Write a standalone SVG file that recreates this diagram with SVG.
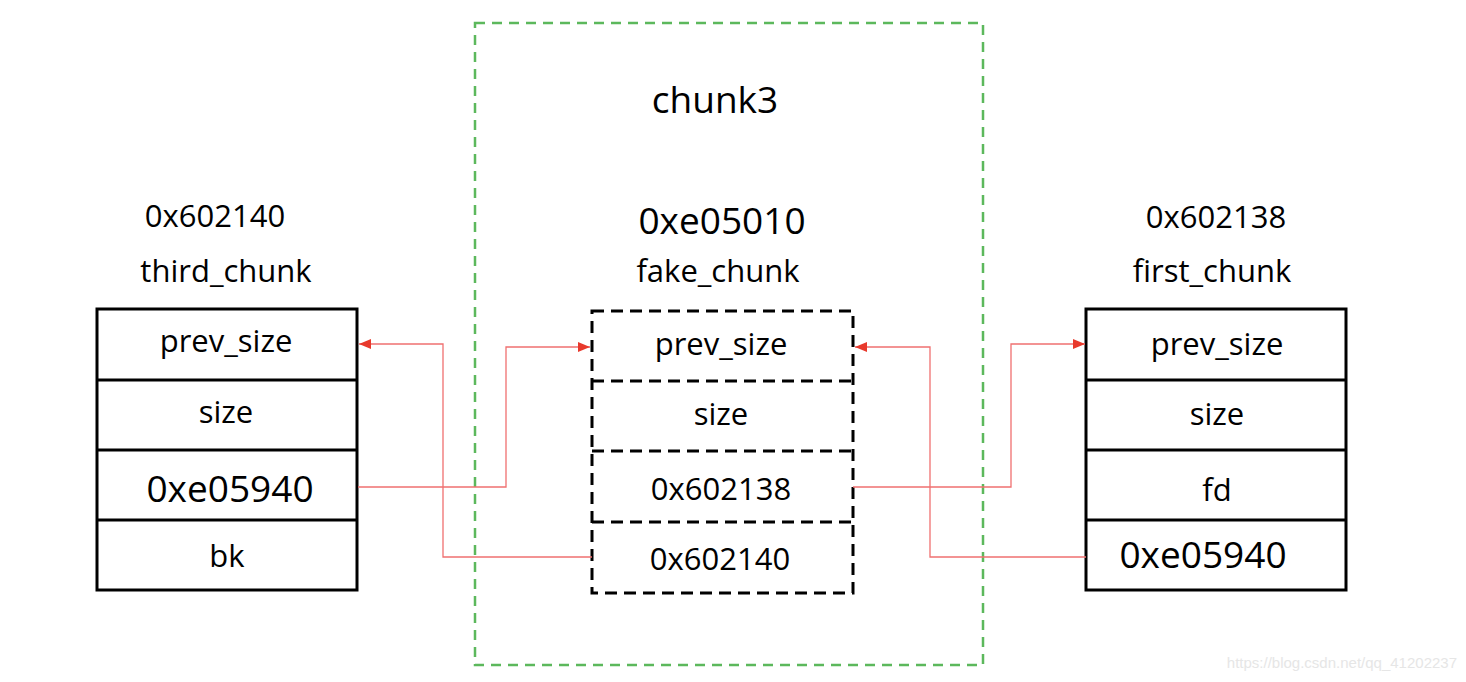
<svg xmlns="http://www.w3.org/2000/svg" width="1466" height="682" viewBox="0 0 1466 682">
<defs>
<style>
.t{font-family:"Open Sans","Noto Sans","Liberation Sans",sans-serif;fill:#000;text-anchor:middle}
.m{font-size:31px}
.l{font-size:37px}
.box{fill:none;stroke:#000;stroke-width:3}
.dbox{fill:none;stroke:#000;stroke-width:3;stroke-dasharray:12 7}
.c{fill:none;stroke:#f07070;stroke-width:1.3}
</style>
<marker id="ah" markerWidth="12" markerHeight="10" refX="12" refY="5" orient="auto" markerUnits="userSpaceOnUse">
<path d="M0,0 L12,5 L0,10 Z" fill="#e8392c"/>
</marker>
</defs>
<rect width="1466" height="682" fill="#fff"/>
<g id="chunk3">
<rect x="475" y="23" width="508" height="642" fill="none" stroke="#5cb85c" stroke-width="2.5" stroke-dasharray="10 7"/>
<text class="t l" x="715" y="113">chunk3</text>
</g>
<g id="third_chunk">
<text class="t m" x="215" y="227">0x602140</text>
<text class="t m" x="226" y="282">third_chunk</text>
<rect class="box" x="97" y="309" width="260" height="281"/>
<line class="box" x1="97" y1="380" x2="357" y2="380"/>
<line class="box" x1="97" y1="450" x2="357" y2="450"/>
<line class="box" x1="97" y1="520" x2="357" y2="520"/>
<text class="t m" x="226" y="352">prev_size</text>
<text class="t m" x="226" y="423">size</text>
<text class="t l" x="230" y="502">0xe05940</text>
<text class="t m" x="227" y="567">bk</text>
</g>
<g id="fake_chunk">
<text class="t l" x="722" y="234">0xe05010</text>
<text class="t m" x="718" y="282">fake_chunk</text>
<rect class="dbox" x="592" y="311" width="261" height="282"/>
<line class="dbox" x1="592" y1="381" x2="853" y2="381"/>
<line class="dbox" x1="592" y1="451" x2="853" y2="451"/>
<line class="dbox" x1="592" y1="522" x2="853" y2="522"/>
<text class="t m" x="721" y="355">prev_size</text>
<text class="t m" x="721" y="425">size</text>
<text class="t m" x="721" y="500">0x602138</text>
<text class="t m" x="720" y="570">0x602140</text>
</g>
<g id="first_chunk">
<text class="t m" x="1216" y="228">0x602138</text>
<text class="t m" x="1212" y="282">first_chunk</text>
<rect class="box" x="1086" y="309" width="260" height="281"/>
<line class="box" x1="1086" y1="380" x2="1346" y2="380"/>
<line class="box" x1="1086" y1="450" x2="1346" y2="450"/>
<line class="box" x1="1086" y1="520" x2="1346" y2="520"/>
<text class="t m" x="1217" y="355">prev_size</text>
<text class="t m" x="1217" y="425">size</text>
<text class="t m" x="1217" y="501">fd</text>
<text class="t l" x="1203" y="568">0xe05940</text>
</g>
<g id="connectors">
<polyline class="c" points="358,487 506,487 506,347 590,347" marker-end="url(#ah)"/>
<polyline class="c" points="592,557 443,557 443,344 359,344" marker-end="url(#ah)"/>
<polyline class="c" points="853,487 1011,487 1011,344 1085,344" marker-end="url(#ah)"/>
<polyline class="c" points="1086,557 930,557 930,347 855,347" marker-end="url(#ah)"/>
</g>
<text x="1457" y="668" font-family="Liberation Sans, sans-serif" font-size="15" fill="#e6e6e6" text-anchor="end">https://blog.csdn.net/qq_41202237</text>
</svg>
